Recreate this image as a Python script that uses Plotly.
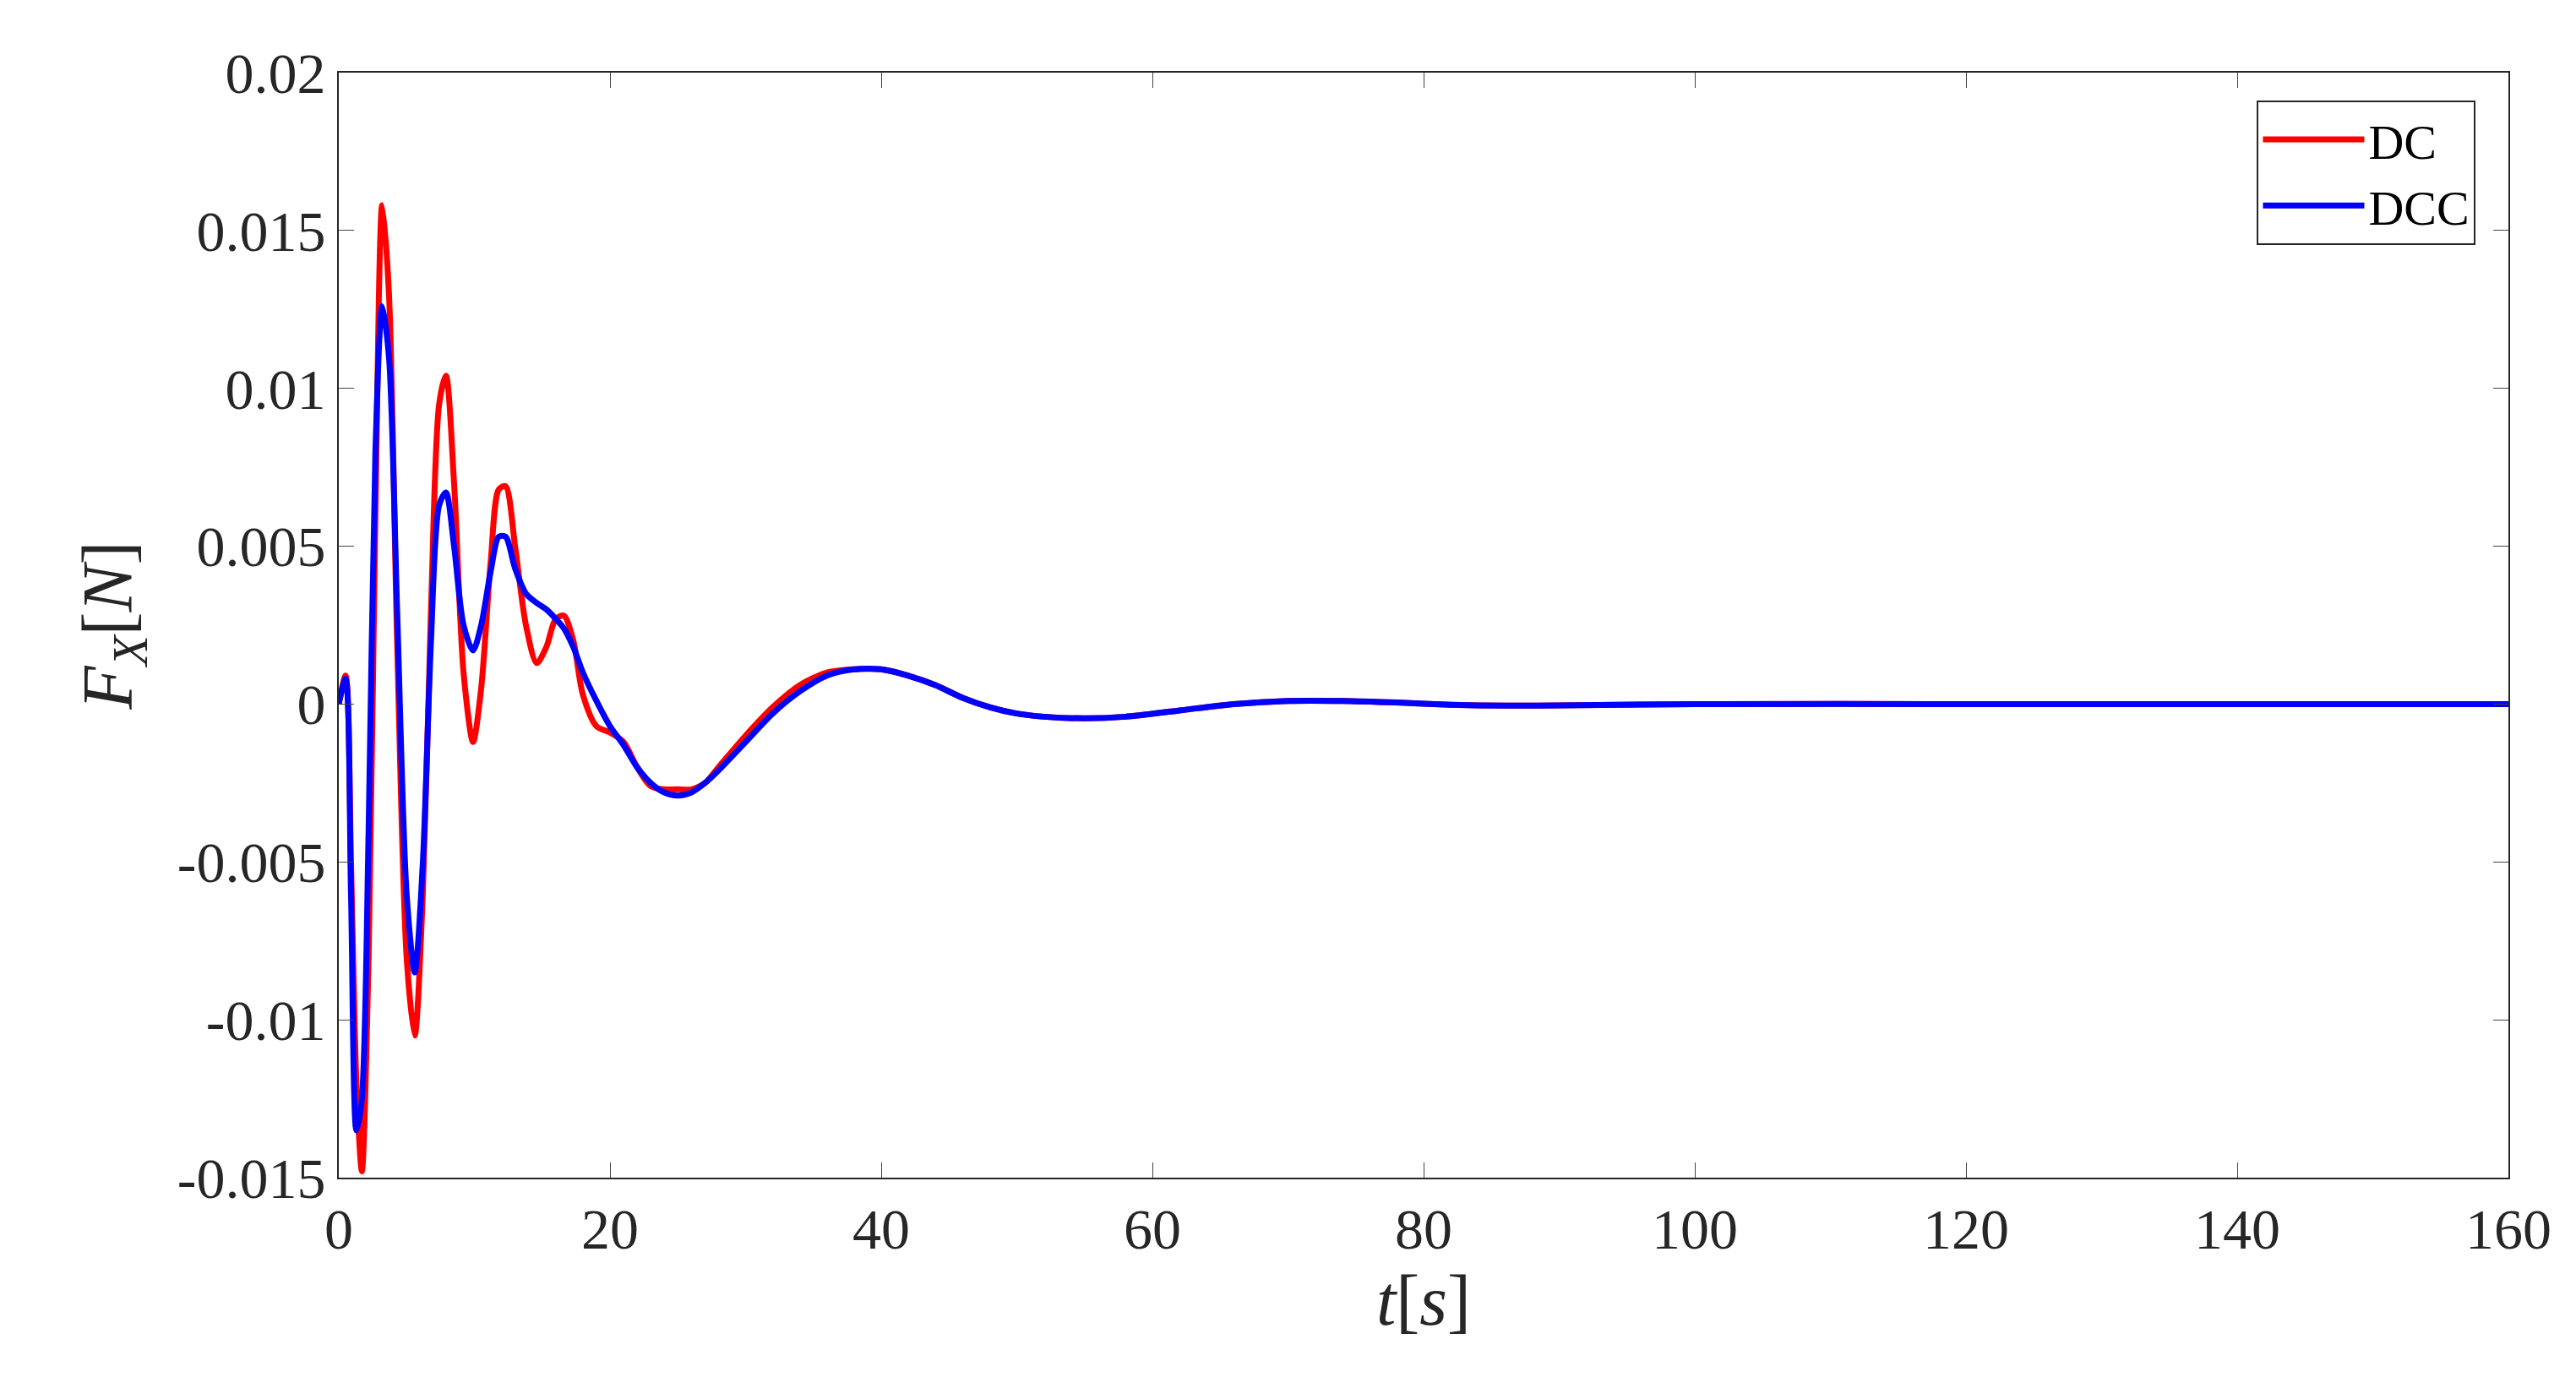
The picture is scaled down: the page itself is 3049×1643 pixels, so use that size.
import plotly.graph_objects as go

t = [0,0.5,0.9,1.3,1.7,2.2,2.7,3.2,3.7,4.3,5,5.6,6.2,6.8,7.4,7.9,8.5,9.2,9.9,10.5,11.2,11.8,12.3,13,13.8,14.6,15.3,16,16.6,17.3,18,19,20,21,22,23,24,25,26,27,28,30,32,34,36,38,40,42,44,46,48,50,52,55,58,62,66,70,74,78,82,86,90,100,120,140,160]
dc = [0,0.0009,-0.005,-0.012,-0.0148,-0.008,0.006,0.0158,0.013,0.002,-0.008,-0.0105,-0.006,0.003,0.0095,0.0104,0.007,0.001,-0.0012,0.0005,0.0045,0.0068,0.0069,0.005,0.0025,0.0013,0.0018,0.0027,0.0028,0.002,0.0003,-0.0007,-0.0009,-0.0012,-0.002,-0.0026,-0.0027,-0.0027,-0.0027,-0.0025,-0.002,-0.001,-0.0001,0.0006,0.001,0.0011,0.0011,0.0009,0.0006,0.0002,-0.0001,-0.0003,-0.0004,-0.00045,-0.0004,-0.0002,0,0.0001,0.0001,0.00005,-0.00002,-0.00005,-0.00004,0,0,0,0]
dcc = [0,0.0008,-0.006,-0.0135,-0.0125,-0.004,0.008,0.0126,0.011,0.003,-0.006,-0.0085,-0.005,0.002,0.0063,0.0067,0.005,0.0025,0.0017,0.0025,0.0042,0.0053,0.0053,0.0043,0.0035,0.0032,0.003,0.0027,0.0024,0.0018,0.001,0.0001,-0.0007,-0.0013,-0.002,-0.0025,-0.0028,-0.0029,-0.0028,-0.0025,-0.0021,-0.0012,-0.0003,0.0004,0.0009,0.0011,0.0011,0.0009,0.0006,0.0002,-0.0001,-0.0003,-0.0004,-0.00045,-0.0004,-0.0002,0,0.0001,0.0001,0.00005,-0.00002,-0.00005,-0.00004,0,0,0,0]
yticks = [-0.015,-0.01,-0.005,0,0.005,0.01,0.015,0.02]
ytext = ["-0.015","-0.01","-0.005","0","0.005","0.01","0.015","0.02"]

fig = go.Figure()
fig.add_trace(go.Scatter(x=t, y=dc, name="DC", mode="lines",
                         line=dict(color="#ff0000", width=7, shape="spline", smoothing=0.8)))
fig.add_trace(go.Scatter(x=t, y=dcc, name="DCC", mode="lines",
                         line=dict(color="#0000ff", width=7, shape="spline", smoothing=0.8)))
font = dict(family="Liberation Serif", size=68, color="#262626")
ax = dict(showgrid=False, zeroline=False, mirror="ticks", ticks="inside", ticklen=18,
          showline=True, linecolor="#262626", linewidth=2, tickfont=font)
fig.update_layout(
    width=3049, height=1643, plot_bgcolor="white", paper_bgcolor="white",
    margin=dict(l=393, r=88, t=78, b=257),
    xaxis=dict(range=[0,160], tickvals=[0,20,40,60,80,100,120,140,160],
               title=dict(text="<i>t</i>[<i>s</i>]", font=dict(family="Liberation Serif", size=84, color="#262626"), standoff=15), **ax),
    yaxis=dict(range=[-0.015,0.02], tickvals=yticks, ticktext=ytext,
               title=dict(text="<i>F<sub>X</sub></i>[<i>N</i>]", font=dict(family="Liberation Serif", size=84, color="#262626"), standoff=25), **ax),
    legend=dict(x=0.985, y=0.975, xanchor="right", yanchor="top", bordercolor="#262626", borderwidth=2,
                bgcolor="white", itemwidth=120, tracegroupgap=0,
                font=dict(family="Liberation Serif", size=58, color="#000000")),
)
fig.write_html("out.html")
